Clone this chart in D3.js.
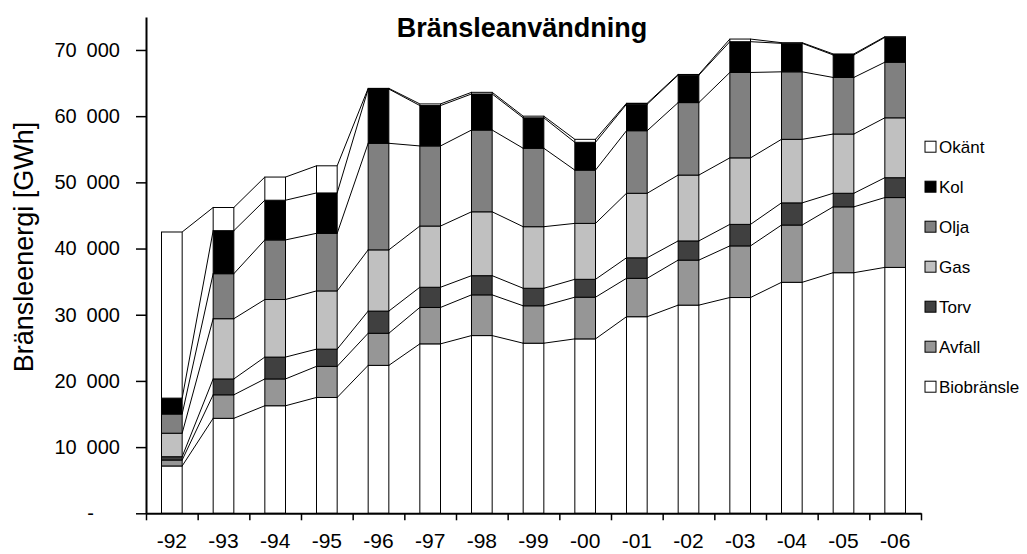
<!DOCTYPE html>
<html>
<head>
<meta charset="utf-8">
<script src="https://cdn.jsdelivr.net/npm/d3@7"></script>
<style>
  body { margin: 0; background: #fff; }
  text { font-family: "Liberation Sans", Arial, sans-serif; fill: #000; }
</style>
</head>
<body>
<div id="chart"></div>
<script>
// data, GWh per year
const years  = ["-92","-93","-94","-95","-96","-97","-98","-99","-00","-01","-02","-03","-04","-05","-06"];
const bio    = [7150, 14350, 16250, 17500, 22350, 25600, 26850, 25700, 26350, 29700, 31450, 32600, 34900, 36350, 37150];
const avfall = [900, 3550, 4050, 4700, 4850, 5500, 6150, 5650, 6300, 5800, 6800, 7800, 8650, 9950, 10550];
const torv   = [500, 2400, 3300, 2600, 3350, 3050, 2900, 2650, 2700, 3100, 2900, 3250, 3350, 2050, 3000];
const gas    = [3550, 9100, 8700, 8800, 9250, 9250, 9650, 9300, 8450, 9750, 9950, 10050, 9600, 8950, 9050];
const olja   = [2900, 6800, 9000, 8700, 16100, 12100, 12350, 11850, 8050, 9450, 10950, 12900, 10200, 8550, 8400];
const kol    = [2400, 6500, 6000, 6100, 8200, 6100, 5450, 4600, 4200, 4000, 4150, 4650, 4300, 3400, 3750];
const okant  = [25100, 3500, 3500, 4100, 100, 250, 250, 250, 450, 150, 100, 400, 100, 150, 100];

const seriesNames = ["Biobränsle", "Avfall", "Torv", "Gas", "Olja", "Kol", "Okänt"];
const seriesData  = [bio, avfall, torv, gas, olja, kol, okant];
const colors      = ["#ffffff", "#969696", "#404040", "#c0c0c0", "#808080", "#000000", "#ffffff"];
const yTicks      = [0, 10000, 20000, 30000, 40000, 50000, 60000, 70000];

const W = 1027, H = 554;
const left = 146, right = 921, bottom = 513.3;

const rows = years.map((yr, i) => {
  const r = {year: yr};
  seriesNames.forEach((k, j) => r[k] = seriesData[j][i]);
  return r;
});

const stack = d3.stack().keys(seriesNames)(rows);

const svg = d3.select("#chart").append("svg")
    .attr("width", W)
    .attr("height", H);

const x = d3.scaleBand()
    .domain(years)
    .range([left, right])
    .paddingInner(0.6)
    .paddingOuter(0.3);

const y = d3.scaleLinear()
    .domain([0, 75000])
    .range([bottom, bottom - 75 * 6.619]);

const color = d3.scaleOrdinal().domain(seriesNames).range(colors);

// stacked bars
svg.append("g")
  .selectAll("g")
  .data(stack)
  .join("g")
    .attr("fill", d => color(d.key))
  .selectAll("rect")
  .data(d => d)
  .join("rect")
    .attr("x", d => x(d.data.year))
    .attr("y", d => y(d[1]))
    .attr("width", x.bandwidth())
    .attr("height", d => y(d[0]) - y(d[1]))
    .attr("stroke", "#000")
    .attr("stroke-width", 1);

// series lines between the bars
const links = [];
stack.forEach(s => {
  for (let i = 0; i < s.length - 1; i++) {
    links.push({
      x1: x(years[i]) + x.bandwidth(), y1: y(s[i][1]),
      x2: x(years[i + 1]), y2: y(s[i + 1][1])
    });
  }
});
svg.append("g")
  .selectAll("line")
  .data(links)
  .join("line")
    .attr("x1", d => d.x1).attr("y1", d => d.y1)
    .attr("x2", d => d.x2).attr("y2", d => d.y2)
    .attr("stroke", "#000")
    .attr("stroke-width", 1);

// y axis
const sv = d3.formatLocale({decimal: ",", thousands: "\u2002", grouping: [3], currency: ["", ""]});
const fmt = sv.format(",d");
const yAxis = svg.append("g")
    .attr("transform", `translate(${left},0)`)
    .call(d3.axisLeft(y)
      .tickValues(yTicks)
      .tickSize(10)
      .tickSizeOuter(0)
      .tickPadding(16)
      .tickFormat(d => d === 0 ? "-" : fmt(d)))
    .attr("font-family", "Liberation Sans, Arial, sans-serif")
    .attr("font-size", 20);
yAxis.select(".domain").attr("stroke-width", 2);
yAxis.selectAll(".tick line").attr("stroke-width", 1.5);
yAxis.selectAll(".tick text").filter(d => d === 0).attr("dx", -26);

// x axis: ticks at the band edges
const edge = d3.scaleLinear().domain([0, years.length]).range([left, right]);
const xAxis = svg.append("g")
    .attr("transform", `translate(0,${bottom})`)
    .call(d3.axisBottom(edge)
      .tickValues(d3.range(years.length + 1))
      .tickSize(7)
      .tickSizeOuter(0)
      .tickFormat(""));
xAxis.select(".domain").attr("stroke-width", 2);
xAxis.selectAll(".tick line").attr("stroke-width", 1.5);

svg.append("g")
    .attr("transform", `translate(0,${bottom})`)
    .call(d3.axisBottom(x).tickSize(0).tickPadding(20))
    .attr("font-family", "Liberation Sans, Arial, sans-serif")
    .attr("font-size", 21)
    .call(g => g.select(".domain").remove());

// title
svg.append("text")
    .attr("x", 522)
    .attr("y", 37)
    .attr("text-anchor", "middle")
    .attr("font-weight", "bold")
    .attr("font-size", 27)
    .text("Bränsleanvändning");

// y axis title
svg.append("text")
    .attr("transform", "translate(33,247) rotate(-90)")
    .attr("text-anchor", "middle")
    .attr("font-size", 27)
    .text("Bränsleenergi [GWh]");

// legend
const legend = svg.append("g")
    .selectAll("g")
    .data(seriesNames.slice().reverse())
    .join("g")
    .attr("transform", (d, i) => `translate(925,${146.7 + i * 40})`);
legend.append("rect")
    .attr("x", 0).attr("y", -5.5)
    .attr("width", 11).attr("height", 11)
    .attr("fill", d => color(d))
    .attr("stroke", "#000")
    .attr("stroke-width", 1);
legend.append("text")
    .attr("x", 14)
    .attr("dy", "0.36em")
    .attr("font-size", 17)
    .text(d => d);
</script>
</body>
</html>
